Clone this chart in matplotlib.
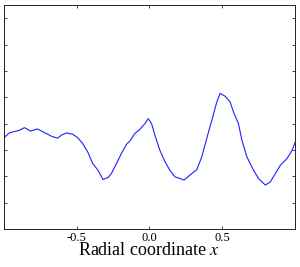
import matplotlib
matplotlib.use("Agg")
import matplotlib.pyplot as plt

x_vals = [-0.997, -0.962, -0.893, -0.859, -0.817, -0.769, -0.721, -0.672, -0.631, -0.603,
          -0.569, -0.528, -0.493, -0.459, -0.424, -0.390, -0.353, -0.319, -0.284, -0.261,
          -0.226, -0.192, -0.157, -0.134, -0.100, -0.066, -0.031, -0.008, 0.015, 0.038,
          0.072, 0.107, 0.141, 0.176, 0.210, 0.238, 0.279, 0.326, 0.360, 0.394,
          0.429, 0.463, 0.486, 0.521, 0.555, 0.578, 0.612, 0.636, 0.670, 0.716,
          0.750, 0.797, 0.831, 0.866, 0.900, 0.946, 0.981, 1.003]
y_vals = [3.48, 3.65, 3.75, 3.85, 3.72, 3.80, 3.66, 3.52, 3.45, 3.57,
          3.65, 3.60, 3.47, 3.25, 2.93, 2.49, 2.23, 1.88, 1.96, 2.11,
          2.49, 2.87, 3.22, 3.34, 3.63, 3.78, 4.00, 4.19, 4.00, 3.56,
          2.99, 2.56, 2.23, 1.98, 1.92, 1.86, 2.05, 2.26, 2.74, 3.44,
          4.13, 4.82, 5.15, 5.04, 4.82, 4.44, 4.00, 3.37, 2.74, 2.23,
          1.92, 1.67, 1.79, 2.11, 2.42, 2.68, 2.99, 3.31]

x_ticks = [-0.5, 0.0, 0.5]
x_tick_labels = ["-0.5", "0.0", "0.5"]
y_ticks = [1, 2, 3, 4, 5, 6, 7, 8]

plt.rcParams['mathtext.fontset'] = 'stix'
fig = plt.figure(figsize=(3.0, 2.67), dpi=100)
ax = fig.add_axes([0.013, 0.142, 0.970, 0.839])
ax.plot(x_vals, y_vals, color='#2020ff', lw=0.8)
ax.set_xlim(-1, 1)
ax.set_ylim(0, 8.5)
ax.set_xticks(x_ticks)
ax.set_xticklabels(x_tick_labels, family='Liberation Serif', fontsize=9)
ax.set_yticks(y_ticks)
ax.set_yticklabels([])
ax.tick_params(direction='in', length=2.5, width=0.5, top=True, right=True, pad=2)
for s in ax.spines.values():
    s.set_linewidth(0.6)
ax.set_xlabel("Radial coordinate $x$", family='Liberation Serif', fontsize=13, labelpad=-1)
fig.savefig("out.png", dpi=100)
